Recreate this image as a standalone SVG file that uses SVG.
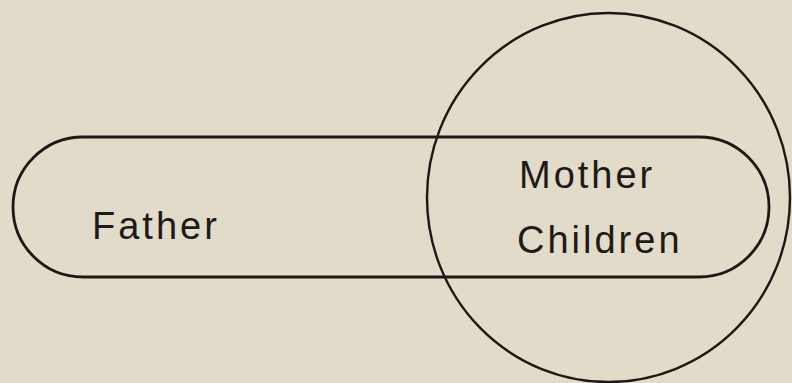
<svg xmlns="http://www.w3.org/2000/svg" width="792" height="383" viewBox="0 0 792 383">
<style>
.shape{fill:none;stroke:#1c1816;}
.lbl{font-family:"Liberation Sans",Arial,sans-serif;font-size:38px;letter-spacing:3px;fill:#1e1a18;}
</style>
<rect x="0" y="0" width="792" height="383" fill="#e2dbca"/>
<g id="family">
<rect class="shape" x="13" y="137" width="756" height="140" rx="70" ry="70" stroke-width="2.8"/>
<text class="lbl" x="92" y="239">Father</text>
</g>
<g id="household">
<ellipse class="shape" cx="608.5" cy="197.5" rx="181.5" ry="184.5" stroke-width="2.4"/>
<text class="lbl" x="519" y="188">Mother</text>
<text class="lbl" x="517" y="253">Children</text>
</g>
<g id="connectors"></g>
</svg>
